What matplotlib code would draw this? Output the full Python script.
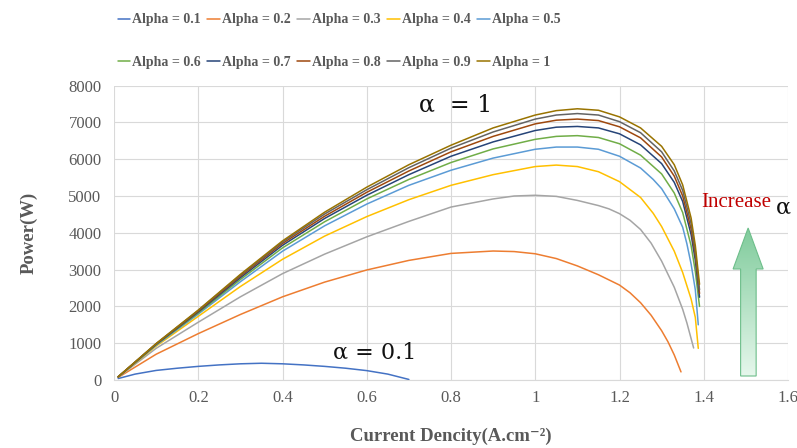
import numpy as np
import matplotlib
matplotlib.use("Agg")
import matplotlib.pyplot as plt
from matplotlib.patches import Polygon
from matplotlib.colors import LinearSegmentedColormap

# ---------------- data ----------------
labels = ["Alpha = 0.1", "Alpha = 0.2", "Alpha = 0.3", "Alpha = 0.4", "Alpha = 0.5",
          "Alpha = 0.6", "Alpha = 0.7", "Alpha = 0.8", "Alpha = 0.9", "Alpha = 1"]
colors = ["#4472C4", "#ED7D31", "#A5A5A5", "#FFC000", "#5B9BD5",
          "#70AD47", "#264478", "#9E480E", "#636363", "#997300"]

x_a01 = [0.01, 0.05, 0.1, 0.15, 0.2, 0.25, 0.3, 0.35, 0.4, 0.45, 0.5, 0.55, 0.6, 0.65, 0.7]
p_a01 = [40, 160, 260, 320, 370, 410, 440, 455, 440, 410, 370, 320, 255, 160, 15]

x_a02 = [0.01, 0.1, 0.2, 0.3, 0.4, 0.5, 0.6, 0.7, 0.8, 0.9, 0.95, 1.0, 1.05, 1.1, 1.15,
         1.2, 1.225, 1.25, 1.275, 1.3, 1.315, 1.33, 1.346]
p_a02 = [70, 700, 1260, 1780, 2260, 2660, 2990, 3250, 3440, 3505, 3490, 3430, 3300, 3100, 2860,
         2580, 2370, 2100, 1760, 1340, 1040, 680, 220]

x_a03 = [0.01, 0.1, 0.2, 0.3, 0.4, 0.5, 0.6, 0.7, 0.8, 0.9, 0.95, 1.0, 1.05, 1.1, 1.15,
         1.175, 1.2, 1.225, 1.25, 1.275, 1.3, 1.33, 1.35, 1.36, 1.376]
p_a03 = [78, 860, 1570, 2260, 2890, 3420, 3890, 4310, 4700, 4920, 5000, 5020, 4990, 4880, 4740,
         4650, 4520, 4340, 4090, 3720, 3230, 2520, 1920, 1550, 870]

x_a04 = [0.01, 0.1, 0.2, 0.3, 0.4, 0.5, 0.6, 0.7, 0.8, 0.9, 1.0, 1.05, 1.1, 1.15, 1.2,
         1.25, 1.28, 1.3, 1.33, 1.35, 1.37, 1.38, 1.387]
p_a04 = [82, 920, 1730, 2540, 3280, 3910, 4440, 4900, 5290, 5580, 5800, 5840, 5800, 5660, 5390,
         4960, 4530, 4170, 3500, 2920, 2200, 1700, 860]

x_a05 = [0.01, 0.1, 0.2, 0.3, 0.4, 0.5, 0.6, 0.7, 0.8, 0.9, 1.0, 1.05, 1.1, 1.15, 1.2,
         1.25, 1.28, 1.3, 1.33, 1.35, 1.36, 1.37, 1.38, 1.387]
p_a05 = [84, 945, 1790, 2670, 3500, 4190, 4780, 5290, 5700, 6030, 6270, 6330, 6330, 6270, 6080,
         5760, 5450, 5200, 4650, 4150, 3700, 3150, 2450, 1500]

x_hi = [0.01, 0.1, 0.2, 0.3, 0.4, 0.5, 0.6, 0.7, 0.8, 0.9, 1.0, 1.05, 1.1, 1.15, 1.2,
        1.25, 1.3, 1.33, 1.35, 1.37, 1.38, 1.39]
p_a06 = [85, 960, 1820, 2730, 3590, 4300, 4920, 5450, 5910, 6280, 6540, 6620, 6640, 6590, 6420,
         6110, 5600, 5080, 4550, 3650, 2950, 2000]
p_a07 = [86, 970, 1850, 2780, 3660, 4390, 5020, 5580, 6080, 6470, 6780, 6870, 6890, 6850, 6690,
         6390, 5880, 5370, 4850, 3950, 3250, 2250]
p_a08 = [87, 980, 1870, 2820, 3710, 4450, 5100, 5680, 6200, 6620, 6960, 7060, 7090, 7050, 6880,
         6580, 6060, 5540, 5000, 4100, 3400, 2350]
p_a09 = [88, 985, 1890, 2850, 3750, 4510, 5170, 5770, 6300, 6740, 7090, 7200, 7240, 7200, 7020,
         6720, 6200, 5680, 5150, 4250, 3500, 2450]
p_a10 = [90, 990, 1900, 2870, 3780, 4560, 5240, 5850, 6380, 6850, 7200, 7320, 7370, 7330, 7150,
         6850, 6350, 5850, 5300, 4400, 3650, 2600]

series_x = [x_a01, x_a02, x_a03, x_a04, x_a05, x_hi, x_hi, x_hi, x_hi, x_hi]
series_p = [p_a01, p_a02, p_a03, p_a04, p_a05, p_a06, p_a07, p_a08, p_a09, p_a10]

x_ticks = [0, 0.2, 0.4, 0.6, 0.8, 1, 1.2, 1.4, 1.6]
x_ticklabels = ["0", "0.2", "0.4", "0.6", "0.8", "1", "1.2", "1.4", "1.6"]
y_ticks = [0, 1000, 2000, 3000, 4000, 5000, 6000, 7000, 8000]

# ---------------- figure ----------------
SERIF = ["Liberation Serif", "DejaVu Serif"]
plt.rcParams["font.family"] = SERIF
TXT = "#595959"

fig = plt.figure(figsize=(7.97, 4.48), dpi=100)
ax = fig.add_axes([114 / 797, 1 - 380 / 448, (788 - 114) / 797, (380 - 85.6) / 448])

handles = []
for xs, ps, c, lab in zip(series_x, series_p, colors, labels):
    h, = ax.plot(xs, ps, color=c, lw=1.1, label=lab, solid_capstyle="round",
                 solid_joinstyle="round", zorder=3)
    handles.append(h)

ax.set_xlim(0, 1.6)
ax.set_ylim(0, 8000)
ax.set_xticks(x_ticks)
ax.set_xticklabels(x_ticklabels)
ax.set_yticks(y_ticks)
ax.grid(True, color="#D9D9D9", lw=0.8, zorder=0)
ax.set_axisbelow(True)
for s in ["top", "right", "left"]:
    ax.spines[s].set_visible(False)
ax.spines["bottom"].set_color("#D9D9D9")
ax.tick_params(axis="y", length=0, labelsize=12, labelcolor=TXT, pad=9)
ax.tick_params(axis="x", length=0, labelsize=12, labelcolor=TXT, pad=7)

ax.set_ylabel("Power(W)", fontsize=13.5, fontweight="bold", color=TXT, labelpad=22)
ax.set_xlabel("Current Dencity(A.cm\u207b\u00b2)", fontsize=13.5, fontweight="bold",
              color=TXT, labelpad=16)

# annotations
ax.text(0.812, 7480, "\u03b1  = 1", fontsize=17, ha="center", va="center",
        family=["DejaVu Serif"], color="#111111")
ax.text(0.62, 760, "\u03b1 = 0.1", fontsize=16, ha="center", va="center",
        family=["DejaVu Serif"], color="#111111")
ax.text(1.476, 4820, "Increase", fontsize=15, ha="center", va="center",
        color="#C00000", clip_on=False)
ax.text(1.59, 4700, "\u03b1", fontsize=16, ha="center", va="center",
        family=["DejaVu Serif"], color="#111111", clip_on=False)

# green gradient arrow
def px2d(px, py):
    return ((px - 114) / 420.5, (380 - py) / 36.8 * 1000)

pts = [px2d(739.5, 376), px2d(755, 376), px2d(755, 269), px2d(762, 269),
       px2d(747, 228), px2d(732, 269), px2d(739.5, 269)]
poly = Polygon(pts, closed=True, facecolor="none", edgecolor="#6DBE8A", lw=0.8, zorder=4)
ax.add_patch(poly)
grad = np.linspace(0, 1, 256).reshape(-1, 1)
cm = LinearSegmentedColormap.from_list("g", ["#E6F7EC", "#7FCB9B"])
xmin = min(p[0] for p in pts); xmax = max(p[0] for p in pts)
ymin = min(p[1] for p in pts); ymax = max(p[1] for p in pts)
im = ax.imshow(grad, cmap=cm, extent=[xmin, xmax, ymin, ymax], aspect="auto",
               origin="lower", zorder=3.5, vmin=0, vmax=1)
im.set_clip_path(poly)
ax.set_xlim(0, 1.6)
ax.set_ylim(0, 8000)

# legend (row-wise order: 0.1..0.5 on the first row)
order = [0, 5, 1, 6, 2, 7, 3, 8, 4, 9]
leg = fig.legend([handles[i] for i in order], [labels[i] for i in order],
                 loc="upper left", bbox_to_anchor=(105 / 797, 1 - 1 / 448), ncol=5,
                 frameon=False, prop={"family": SERIF, "weight": "bold", "size": 10},
                 handlelength=0.9, handletextpad=0.15, columnspacing=0.48,
                 labelspacing=2.1)
for t in leg.get_texts():
    t.set_color(TXT)

fig.savefig("out.png", dpi=100)
